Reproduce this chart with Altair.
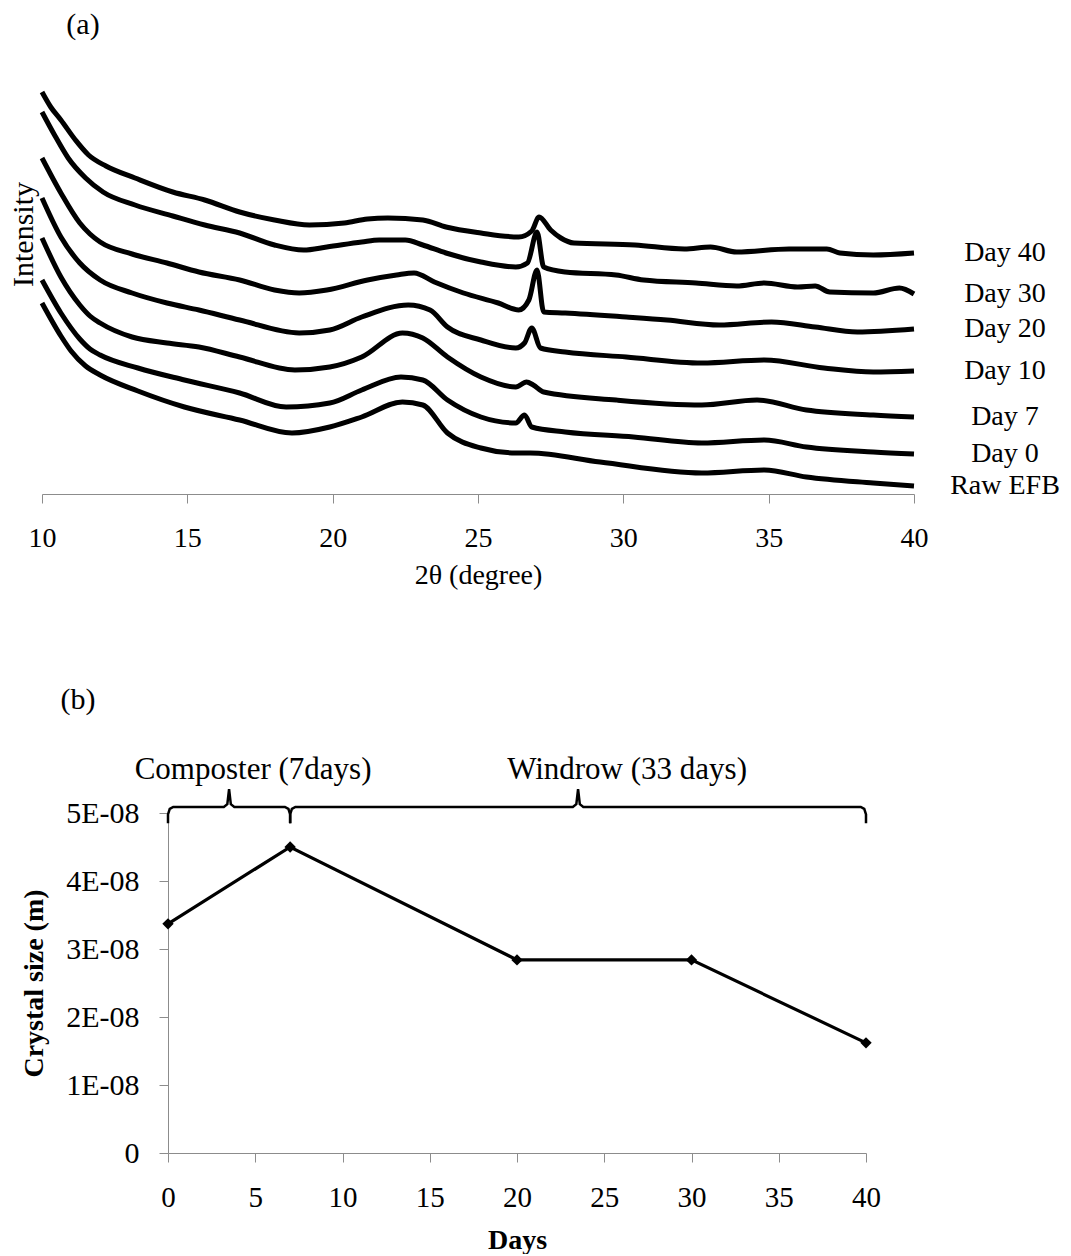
import altair as alt
import pandas as pd

FONT = "Liberation Serif"
GRAY = "#8c8c8c"

# ---------------- (a) XRD patterns (offset stacked, arbitrary intensity) ----------------
tt_day40 = [10.0, 10.3, 10.65, 11.15, 11.6, 12.2, 13.2, 14.5, 15.6, 16.8, 18.0, 19.2, 20.4, 21.2, 21.9,
            23.1, 23.9, 25.1, 26.4, 26.85, 27.1, 27.5, 27.85, 28.3, 30.4, 32.1, 33.0, 33.9, 35.7, 37.0,
            37.45, 38.6, 40.0]
int_day40 = [402, 387, 374, 354, 339, 328, 316, 302, 294, 282, 274, 269, 271, 275, 276,
             274, 267, 261, 257, 263, 277, 264, 256, 251, 249, 245, 247, 242, 245, 245,
             241, 239, 241]

tt_day30 = [10.0, 10.45, 10.9, 11.5, 12.1, 13.2, 14.5, 15.6, 16.8, 18.0, 19.0, 19.8, 21.0, 21.6, 22.5,
            23.1, 23.9, 25.1, 26.3, 26.7, 27.03, 27.26, 28.0, 29.75, 30.7, 32.5, 33.9, 34.85, 36.0, 36.6,
            37.1, 38.6, 39.5, 40.0]
int_day30 = [382, 358, 336, 316, 302, 289, 278, 269, 261, 249, 244, 247, 252, 254, 254,
             249, 241, 232, 227, 231, 262, 227, 222, 219, 214, 211, 208, 211, 207, 208,
             202, 201, 206, 200]

tt_day20 = [10.0, 10.65, 11.3, 11.65, 12.0, 13.1, 14.3, 15.4, 16.8, 18.0, 18.85, 19.8, 21.2, 22.2, 22.8,
            23.5, 24.5, 25.7, 26.4, 26.75, 27.03, 27.26, 28.0, 30.1, 31.5, 33.3, 35.1, 36.6, 38.05, 40.0]
int_day20 = [336, 301, 271, 260, 252, 240, 231, 222, 214, 204, 201, 204, 214, 219, 221,
             212, 201, 191, 184, 194, 224, 182, 181, 177, 174, 169, 172, 167, 162, 165]

tt_day10 = [10.0, 10.65, 11.3, 12.0, 13.1, 14.3, 15.4, 16.8, 18.85, 19.9, 21.0, 22.6, 23.35, 23.95, 25.1,
            26.3, 26.6, 26.85, 27.15, 28.0, 30.1, 32.7, 34.85, 36.9, 38.6, 40.0]
int_day10 = [296, 257, 231, 214, 201, 191, 184, 174, 161, 164, 177, 189, 184, 167, 154,
             146, 151, 166, 146, 142, 137, 131, 134, 126, 122, 123]

tt_day7 = [10.0, 10.65, 11.3, 11.65, 12.0, 13.1, 14.3, 15.4, 16.8, 18.7, 19.9, 21.0, 22.4, 23.1, 23.95,
           25.1, 26.3, 26.67, 26.9, 27.26, 29.75, 32.7, 34.6, 36.3, 38.6, 40.0]
int_day7 = [256, 217, 189, 178, 171, 157, 151, 147, 137, 124, 127, 137, 161, 156, 137,
            117, 107, 112, 109, 102, 94, 89, 94, 84, 79, 77]

tt_day0 = [10.0, 10.65, 11.3, 11.65, 12.0, 13.3, 14.9, 16.8, 18.4, 19.9, 21.0, 22.35, 23.1, 23.95, 25.1,
           26.3, 26.6, 26.85, 28.0, 30.35, 32.7, 34.85, 36.3, 38.6, 40.0]
int_day0 = [214, 181, 155, 145, 139, 126, 114, 101, 87, 91, 104, 117, 114, 94, 77,
            71, 79, 67, 62, 57, 51, 54, 47, 42, 40]

tt_raw = [10.0, 10.65, 11.0, 11.5, 12.0, 13.3, 14.9, 16.8, 18.6, 19.9, 21.0, 22.4, 23.1, 23.95, 25.1,
          26.3, 26.8, 29.2, 32.7, 34.85, 36.3, 38.6, 40.0]
int_raw = [191, 158, 143, 128, 119, 103, 87, 74, 61, 67, 77, 92, 89, 61, 46,
           41, 41, 32, 21, 24, 17, 11, 8]

xrd_series = [
    ("Day 40", tt_day40, int_day40),
    ("Day 30", tt_day30, int_day30),
    ("Day 20", tt_day20, int_day20),
    ("Day 10", tt_day10, int_day10),
    ("Day 7", tt_day7, int_day7),
    ("Day 0", tt_day0, int_day0),
    ("Raw EFB", tt_raw, int_raw),
]
x_ticks_a = [10, 15, 20, 25, 30, 35, 40]
x_dom_a = [10, 40]
y_dom_a = [0, 410]

# ---------------- (b) crystal size ----------------
days = [0, 7, 20, 30, 40]
crystal_size = [3.37e-8, 4.5e-8, 2.84e-8, 2.84e-8, 1.62e-8]
phase_names = ["Composter (7days)", "Windrow (33 days)"]
phase_start = [0, 7]
phase_end = [7, 40]
x_ticks_b = [0, 5, 10, 15, 20, 25, 30, 35, 40]
y_ticks_b = [0, 1e-8, 2e-8, 3e-8, 4e-8, 5e-8]
x_dom_b = [0, 40]
y_dom_b = [0, 5e-8]

# ---------------- layout (pixels inside one shared view) ----------------
VIEW_W, VIEW_H = 872, 1069
A_RANGE_X, A_RANGE_Y = [0, 872], [410, 0]
B_RANGE_X, B_RANGE_Y = [126, 824], [1069, 729]

sxA = alt.Scale(domain=x_dom_a, range=A_RANGE_X, nice=False, zero=False)
syA = alt.Scale(domain=y_dom_a, range=A_RANGE_Y, nice=False, zero=False)
sxB = alt.Scale(domain=x_dom_b, range=B_RANGE_X, nice=False, zero=False)
syB = alt.Scale(domain=y_dom_b, range=B_RANGE_Y, nice=False, zero=False)

# ---------------- tables ----------------
rows = []
for name, xs, ys in xrd_series:
    for i, (a, v) in enumerate(zip(xs, ys)):
        rows.append({"sample": name, "two_theta": a, "intensity": v, "i": i})
df_a = pd.DataFrame(rows)

label_x = 43.13  # label column to the right of the 40° end
df_lab = pd.DataFrame({
    "sample": [s[0] for s in xrd_series],
    "two_theta": [label_x] * len(xrd_series),
    "intensity": [s[2][-1] for s in xrd_series],
})

df_b = pd.DataFrame({"day": days, "size": crystal_size})

brace_rows = []
for name, s, e in zip(phase_names, phase_start, phase_end):
    m = (s + e) / 2
    pts = [(s, 4.85e-8), (s, 4.98e-8), (s + 0.1, 5.06e-8), (s + 0.3, 5.09e-8),
           (m - 0.3, 5.09e-8), (m - 0.1, 5.13e-8), (m, 5.35e-8), (m + 0.1, 5.13e-8),
           (m + 0.3, 5.09e-8), (e - 0.3, 5.09e-8), (e - 0.1, 5.06e-8), (e, 4.98e-8), (e, 4.85e-8)]
    for i, (px, py) in enumerate(pts):
        brace_rows.append({"phase": name, "day": px, "size": py, "i": i})
df_brace = pd.DataFrame(brace_rows)

df_phase = pd.DataFrame({"phase": phase_names,
                         "day": [(s + e) / 2 for s, e in zip(phase_start, phase_end)],
                         "size": [y_dom_b[1]] * len(phase_names)})

df_panel_a = pd.DataFrame({"t": ["(a)"], "two_theta": [x_dom_a[0]], "intensity": [y_dom_a[1]]})
df_panel_b = pd.DataFrame({"t": ["(b)"], "day": [x_dom_b[0]], "size": [y_dom_b[1]]})

# ---------------- axes ----------------
ax_xa = alt.Axis(orient="bottom", offset=-(VIEW_H - A_RANGE_Y[0]), values=x_ticks_a,
                 title="2θ (degree)", grid=False, format="d",
                 domainColor=GRAY, tickColor=GRAY, tickSize=9, labelFlush=False,
                 labelFont=FONT, labelFontSize=28, labelColor="black", labelPadding=21,
                 titleFont=FONT, titleFontSize=28, titleFontWeight="normal",
                 titleColor="black", titlePadding=9)
ax_ya = alt.Axis(orient="left", title="Intensity", labels=False, ticks=False, domain=False,
                 grid=False, titleFont=FONT, titleFontSize=30, titleFontWeight="normal",
                 titleColor="black", titlePadding=4, titleY=150)
ax_xb = alt.Axis(orient="bottom", values=x_ticks_b, title="Days", grid=False, format="d",
                 domainColor=GRAY, tickColor=GRAY, tickSize=9, labelFlush=False,
                 labelFont=FONT, labelFontSize=29, labelColor="black", labelPadding=21,
                 titleFont=FONT, titleFontSize=28, titleFontWeight="bold",
                 titleColor="black", titlePadding=14)
ax_yb = alt.Axis(orient="left", offset=-B_RANGE_X[0], values=y_ticks_b, title="Crystal size (m)",
                 grid=False,
                 labelExpr="datum.value == 0 ? '0' : format(round(datum.value * 1e8), 'd') + 'E-08'",
                 domainColor=GRAY, tickColor=GRAY, tickSize=9, labelFlush=False,
                 labelFont=FONT, labelFontSize=30, labelColor="black", labelPadding=20,
                 titleFont=FONT, titleFontSize=28, titleFontWeight="bold",
                 titleColor="black", titlePadding=17)

# ---------------- layers ----------------
lines_a = alt.Chart(df_a).mark_line(color="black", strokeWidth=5, clip=False,
                                    interpolate="monotone").encode(
    x=alt.X("two_theta:Q", scale=sxA, axis=ax_xa),
    y=alt.Y("intensity:Q", scale=syA, axis=ax_ya),
    detail="sample:N", order="i:Q")
text_a = alt.Chart(df_lab).mark_text(font=FONT, fontSize=28, color="black", align="center",
                                     baseline="middle").encode(
    x=alt.X("two_theta:Q", scale=sxA, axis=None),
    y=alt.Y("intensity:Q", scale=syA, axis=None), text="sample:N")
tag_a = alt.Chart(df_panel_a).mark_text(font=FONT, fontSize=30, color="black", align="center",
                                        baseline="middle", dx=41, dy=-59).encode(
    x=alt.X("two_theta:Q", scale=sxA, axis=None),
    y=alt.Y("intensity:Q", scale=syA, axis=None), text="t:N")

line_b = alt.Chart(df_b).mark_line(color="black", strokeWidth=3.2).encode(
    x=alt.X("day:Q", scale=sxB, axis=ax_xb),
    y=alt.Y("size:Q", scale=syB, axis=ax_yb))
pts_b = alt.Chart(df_b).mark_point(shape="diamond", filled=True, color="black", size=130,
                                    opacity=1).encode(
    x=alt.X("day:Q", scale=sxB, axis=None), y=alt.Y("size:Q", scale=syB, axis=None))
brace_b = alt.Chart(df_brace).mark_line(color="black", strokeWidth=2.5, clip=False).encode(
    x=alt.X("day:Q", scale=sxB, axis=None), y=alt.Y("size:Q", scale=syB, axis=None),
    detail="phase:N", order="i:Q")
comp_b = alt.Chart(df_phase.iloc[[0]]).mark_text(font=FONT, fontSize=31, color="black",
                                                 align="center", baseline="middle",
                                                 dx=24, dy=-43).encode(
    x=alt.X("day:Q", scale=sxB, axis=None), y=alt.Y("size:Q", scale=syB, axis=None),
    text="phase:N")
wind_b = alt.Chart(df_phase.iloc[[1]]).mark_text(font=FONT, fontSize=31, color="black",
                                                 align="center", baseline="middle",
                                                 dx=49, dy=-43).encode(
    x=alt.X("day:Q", scale=sxB, axis=None), y=alt.Y("size:Q", scale=syB, axis=None),
    text="phase:N")
tag_b = alt.Chart(df_panel_b).mark_text(font=FONT, fontSize=30, color="black", align="center",
                                        baseline="middle", dx=-90, dy=-113).encode(
    x=alt.X("day:Q", scale=sxB, axis=None), y=alt.Y("size:Q", scale=syB, axis=None),
    text="t:N")

chart = alt.layer(lines_a, text_a, tag_a, line_b, pts_b, brace_b, comp_b, wind_b, tag_b).resolve_scale(
    x="independent", y="independent").properties(
    width=VIEW_W, height=VIEW_H,
    padding={"left": 8, "top": 10, "right": 0, "bottom": 0}, background="white"
).configure_view(stroke=None)

chart.save("out.html", embed_options={"renderer": "svg", "actions": False})
